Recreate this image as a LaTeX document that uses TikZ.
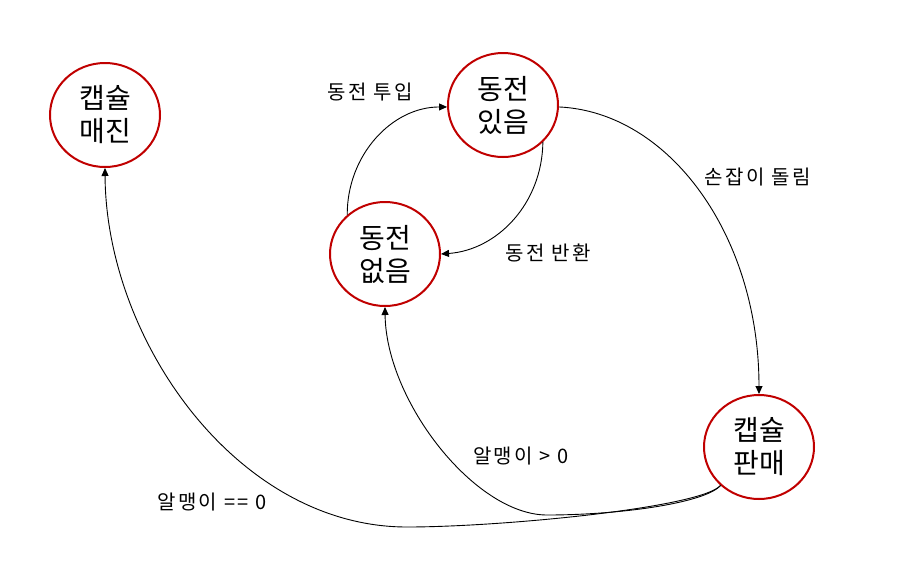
\documentclass[tikz,border=0pt]{standalone}
\usepackage{fontspec}
\setmainfont{Noto Sans CJK KR}
\newfontfamily\guardfont[LetterSpace=12]{Noto Sans CJK KR}
\usetikzlibrary{arrows.meta,shapes.geometric}
\definecolor{statered}{HTML}{C00000}

\begin{document}
\begin{tikzpicture}[x=1pt,y=-1pt,
  state/.style={ellipse,draw=statered,line width=2pt,minimum width=110pt,minimum height=104pt,inner sep=0pt,align=center,font=\fontsize{28}{33}\selectfont},
  trans/.style={draw=black,line width=0.9pt,-{Triangle[length=8pt,width=7pt]}},
  guard/.style={font=\guardfont\fontsize{20}{23}\selectfont}]
\useasboundingbox (0,0) rectangle (903,582);
\node[state] (soldout) at (105,115) {캡슐\\매진};
\node[state] (coin) at (503,105) {동전\\있음};
\node[state] (nocoin) at (385,254) {동전\\없음};
\node[state] (sale) at (759,447) {캡슐\\판매};
\coordinate (low1) at (547,515);
\coordinate (low2) at (407,527);
\draw[trans] (nocoin.134) .. controls (347,155) and (392,107) .. (coin.182);
\draw[trans] (coin.-43) .. controls (542,204) and (497,250) .. (nocoin.east);
\draw[trans] (coin.-2) .. controls (669,112) and (759,235) .. (sale.north);
\draw[trans] (sale.225) .. controls (705,503) and (620,515) .. (low1) .. controls (475,515) and (386,401) .. (nocoin.south);
\draw[trans] (sale.225) .. controls (700,508) and (500,527) .. (low2) .. controls (237,527) and (106,340) .. (soldout.south);
\node[guard] (insert) at (370,92) {동전 투입};
\node[guard] (refund) at (548,253) {동전 반환};
\node[guard] (crank) at (758,177) {손잡이 돌림};
\node[guard] (left) at (521,456) {알맹이 > 0};
\node[guard] (empty) at (212,502) {알맹이 == 0};
\end{tikzpicture}
\end{document}
